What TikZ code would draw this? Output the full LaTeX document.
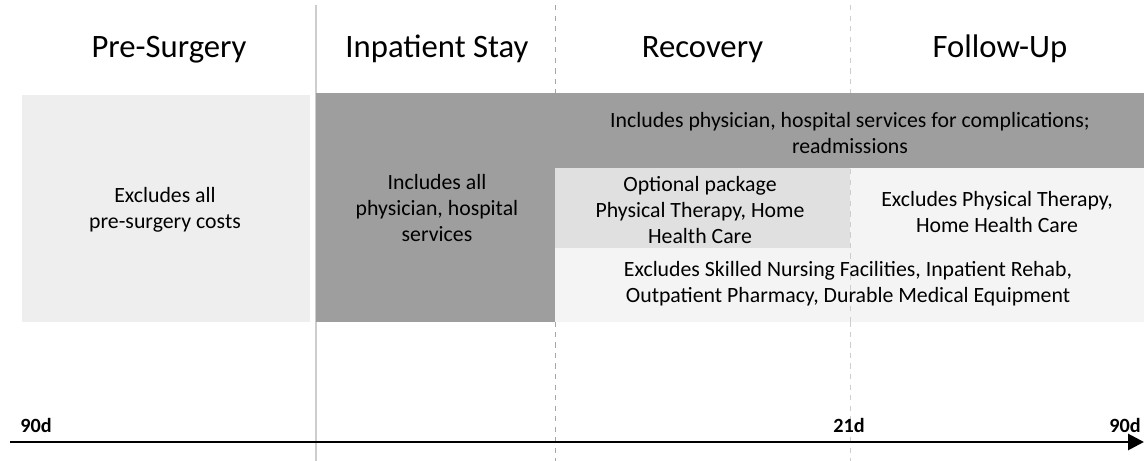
\documentclass[tikz,border=0pt]{standalone}
\usepackage{fontspec}
\setmainfont{Carlito}
\usepackage{xcolor}
\usetikzlibrary{arrows.meta}
\definecolor{coverdark}{RGB}{158, 158, 158}
\definecolor{excludelight}{RGB}{238, 238, 238}
\definecolor{optionalgray}{RGB}{224, 224, 224}
\definecolor{restlight}{RGB}{244, 244, 244}
\definecolor{dividergray}{RGB}{205, 205, 205}

\begin{document}
\begin{tikzpicture}[
    phase/.style={anchor=base, font=\fontsize{18.6}{22}\selectfont},
    note/.style={align=center, font=\fontsize{12.4}{14.8}\selectfont},
    daymark/.style={anchor=base, font=\fontsize{11.5}{13}\selectfont\bfseries}]
                \useasboundingbox (0,0) rectangle (22.88,9.22);
                % phase columns
                \draw[dividergray, line width=0.8pt] (6.32,9.12) -- (6.32,0);
                \draw[gray!70, dashed] (11.10,9.12) -- (11.10,0);
                \draw[dividergray, dashed] (17.00,9.12) -- (17.00,0);
                \node[phase] (pre) at (3.38,8.06) {Pre-Surgery};
                \node[phase] (stay) at (8.74,8.06) {Inpatient Stay};
                \node[phase] (recov) at (14.05,8.06) {Recovery};
                \node[phase] (follow) at (20.00,8.06) {Follow-Up};
                % coverage blocks
                \fill[excludelight] (0.44,2.78) rectangle (6.20,7.32);
                \fill[coverdark] (6.32,2.78) rectangle (11.10,7.36);
                \fill[coverdark] (11.10,5.86) rectangle (22.88,7.36);
                \fill[restlight] (11.10,2.78) rectangle (22.88,5.86);
                \fill[optionalgray] (11.10,4.26) rectangle (17.00,5.86);
                \draw[dividergray, dashed] (17.00,2.78) -- (17.00,5.86);
                \node[note] (prenote) at (3.30,5.02) {Excludes all\\pre-surgery costs};
                \node[note] (staynote) at (8.74,5.06) {Includes all\\physician, hospital\\services};
                \node[note] (compl) at (17.00,6.56) {Includes physician, hospital services for complications;\\readmissions};
                \node[note] (optional) at (14.00,5.02) {Optional package\\Physical Therapy, Home\\Health Care};
                \node[note] (nopt) at (19.94,4.98) {Excludes Physical Therapy,\\Home Health Care};
                \node[note] (nosnf) at (16.96,3.54) {Excludes Skilled Nursing Facilities, Inpatient Rehab,\\Outpatient Pharmacy, Durable Medical Equipment};
                % time axis
                \coordinate (start) at (0.20,0.38);
                \coordinate (stop) at (22.88,0.38);
                \draw[line width=1.6pt, -{Triangle[length=9pt, width=9pt]}] (start) -- (stop);
                \node[daymark] (d90a) at (0.72,0.56) {90d};
                \node[daymark] (d21) at (16.98,0.56) {21d};
                \node[daymark] (d90b) at (22.50,0.56) {90d};
            \end{tikzpicture}
\end{document}
